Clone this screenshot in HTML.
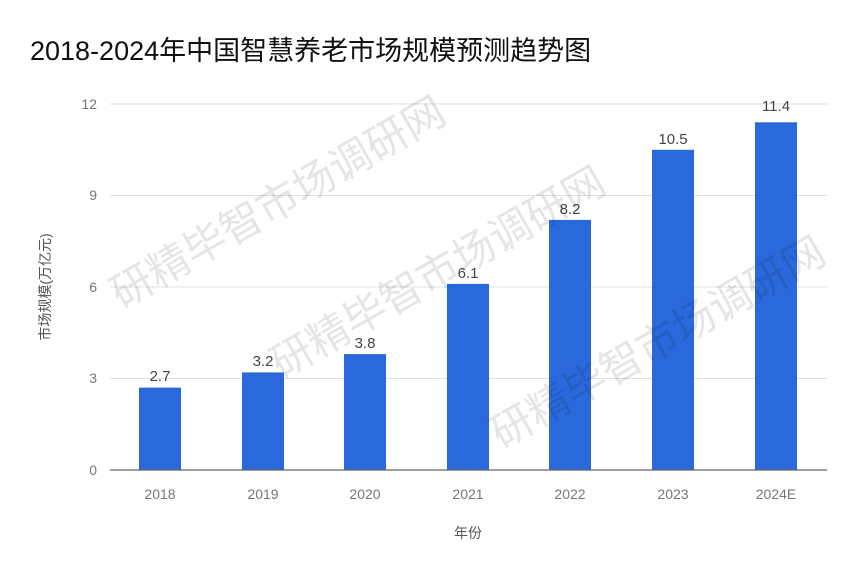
<!DOCTYPE html>
<html><head><meta charset="utf-8"><style>
html,body{margin:0;padding:0;background:#fff;}
svg{display:block;font-family:"Liberation Sans","Noto Sans CJK SC",sans-serif;}
</style></head><body>
<svg width="865" height="581" viewBox="0 0 865 581" xmlns="http://www.w3.org/2000/svg">
<rect width="865" height="581" fill="#fff"/>
<text x="30" y="60" font-size="27" fill="#111">2018-2024年中国智慧养老市场规模预测趋势图</text>
<g stroke="#e0e0e0" stroke-width="1">
<line x1="110" y1="104" x2="827" y2="104"/>
<line x1="110" y1="195.5" x2="827" y2="195.5"/>
<line x1="110" y1="287" x2="827" y2="287"/>
<line x1="110" y1="378.5" x2="827" y2="378.5"/>
</g>
<g font-size="14" fill="#777" text-anchor="end">
<text x="97" y="109">12</text><text x="97" y="200">9</text><text x="97" y="292">6</text><text x="97" y="383">3</text><text x="97" y="475">0</text>
</g>
<g fill="#2a69dc">
<rect x="139" y="387.6" width="42" height="82.4"/>
<rect x="242" y="372.4" width="42" height="97.6"/>
<rect x="344" y="354.1" width="42" height="115.9"/>
<rect x="447" y="283.9" width="42" height="186.1"/>
<rect x="549" y="219.9" width="42" height="250.1"/>
<rect x="652" y="149.8" width="42" height="320.2"/>
<rect x="755" y="122.3" width="42" height="347.7"/>
</g>
<line x1="110" y1="470" x2="827" y2="470" stroke="#666" stroke-width="1.2"/>
<g font-size="15" fill="#444" text-anchor="middle">
<text x="160" y="381">2.7</text><text x="263" y="366">3.2</text><text x="365" y="348">3.8</text><text x="468" y="278">6.1</text><text x="570" y="214">8.2</text><text x="673" y="144">10.5</text><text x="776" y="111">11.4</text>
</g>
<g font-size="14" fill="#777" text-anchor="middle">
<text x="160" y="499">2018</text><text x="263" y="499">2019</text><text x="365" y="499">2020</text><text x="468" y="499">2021</text><text x="570" y="499">2022</text><text x="673" y="499">2023</text><text x="776" y="499">2024E</text>
</g>
<text x="468" y="538" font-size="14" fill="#555" text-anchor="middle">年份</text>
<text transform="translate(50,287) rotate(-90)" font-size="14" fill="#555" text-anchor="middle">市场规模(万亿元)</text>
<g font-size="42" fill="#000" fill-opacity="0.1" text-anchor="middle">
<text transform="translate(285,215) rotate(-30)">研精毕智市场调研网</text>
<text transform="translate(445,285) rotate(-30)">研精毕智市场调研网</text>
<text transform="translate(665,355) rotate(-30)">研精毕智市场调研网</text>
</g>
</svg>
</body></html>
